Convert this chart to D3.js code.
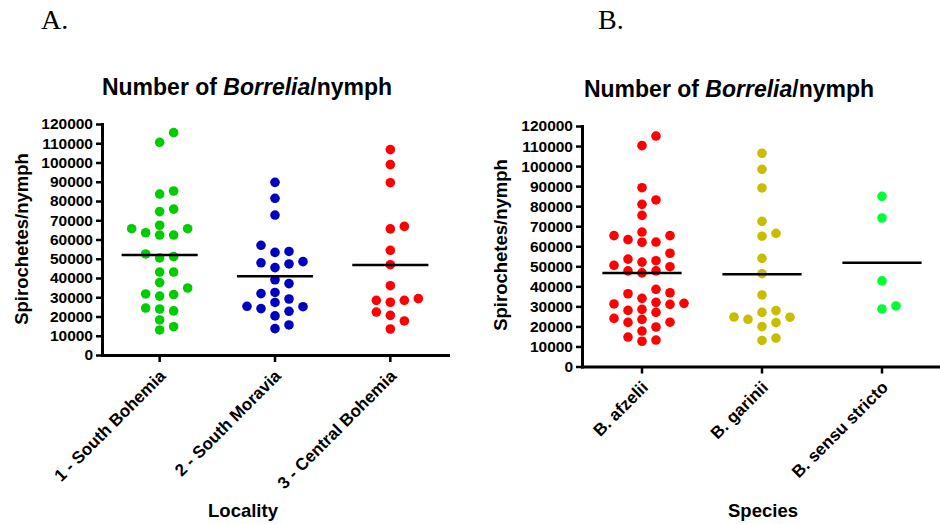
<!DOCTYPE html>
<html>
<head>
<meta charset="utf-8">
<script src="https://cdn.jsdelivr.net/npm/d3@7"></script>
<style>
  html, body { margin: 0; padding: 0; background: #fff; }
  svg { display: block; }
  text { font-family: "Liberation Sans", Arial, sans-serif; }
</style>
</head>
<body>
<script>
// ---------- Data ----------
const categoriesA = ["1 - South Bohemia", "2 - South Moravia", "3 - Central Bohemia"];
const southBohemia = [115500,110500,85200,83600,75800,74500,67400,65600,65600,63500,62300,62300,52500,51100,50400,43100,43100,37600,34800,31700,31400,30600,24400,23900,22900,18200,14700,13000];
const southMoravia = [89700,81400,72700,57000,53800,53300,48500,47900,47300,45400,39100,37100,32500,31900,29100,27300,25300,25100,24100,22700,20300,15600,13700];
const centralBohemia = [106700,98900,89500,66800,65500,54400,46900,36000,29300,28400,28400,27400,22300,20600,17700,13500];
const meansA = [51900, 40900, 46800];

const categoriesB = ["B. afzelii", "B. garinii", "B. sensu stricto"];
const afzelii = [115000,110200,89200,83100,80900,75400,67100,65300,65300,63300,62100,62000,56500,53600,52800,52100,50500,49800,47700,47700,46700,38500,36800,36300,34000,32000,31500,31200,31000,28500,28000,27000,24000,23500,22100,22000,19700,17700,14700,13200,12600];
const garinii = [106400,98400,89100,72400,66400,65000,54000,46300,35700,27900,27000,24700,24600,23500,21900,19900,14200,13000];
const sensuStricto = [84900,74100,42700,30200,28700];
const meansB = [46700, 46000, 51800];

const yTicks = [0,10000,20000,30000,40000,50000,60000,70000,80000,90000,100000,110000,120000];
const title = ["Number of ", "Borrelia", "/nymph"];
const yTitle = "Spirochetes/nymph";

// ---------- Drawing ----------
const svg = d3.select("body").append("svg").attr("width", 940).attr("height", 524);

function swarm(vals, y, thr) {
  const order = vals.map((v, i) => i).sort((a, b) => vals[a] - vals[b]);
  const placed = [];
  const off = new Array(vals.length);
  for (const i of order) {
    const py = y(vals[i]);
    for (let k = 0; k < 30; k++) {
      const c = k === 0 ? 0 : (k % 2 ? (k + 1) / 2 : -k / 2);
      if (!placed.some(p => p.c === c && Math.abs(p.y - py) < thr)) {
        off[i] = c; placed.push({c, y: py}); break;
      }
    }
  }
  return off;
}

function panel(cfg) {
  const g = svg.append("g");
  const x = d3.scaleBand().domain(cfg.cats).range(cfg.xr);
  const y = d3.scaleLinear().domain([0, 120000]).range(cfg.yr);
  const bw = x.bandwidth();

  // panel letter
  g.append("text").attr("x", cfg.letterX).attr("y", 29)
    .style("font-family", "'Liberation Serif', 'Times New Roman', serif")
    .style("font-size", "28px").text(cfg.letter);

  // title
  const t = g.append("text").attr("x", cfg.titleX).attr("y", cfg.titleY)
    .attr("text-anchor", "middle").style("font-size", "23px").style("font-weight", "bold");
  t.append("tspan").text(title[0]);
  t.append("tspan").style("font-style", "italic").text(title[1]);
  t.append("tspan").text(title[2]);

  // y axis
  const ya = g.append("g").attr("transform", `translate(${cfg.xr[0]},0)`)
    .call(d3.axisLeft(y).tickValues(yTicks).tickFormat(d3.format("d")).tickSize(6).tickSizeOuter(0).tickPadding(3));
  ya.select(".domain").attr("stroke", "#000").attr("stroke-width", 3).attr("stroke-linecap", "square");
  ya.selectAll(".tick line").attr("stroke", "#000").attr("stroke-width", 2.5);
  ya.selectAll(".tick text").attr("fill", "#000").style("font-size", "15.5px").style("font-weight", "bold")
    .style("font-family", "'Liberation Sans', Arial, sans-serif");

  // x axis
  const xa = g.append("g").attr("transform", `translate(0,${cfg.yr[0]})`)
    .call(d3.axisBottom(x).tickSize(7).tickSizeOuter(0));
  xa.select(".domain").attr("stroke", "#000").attr("stroke-width", 3).attr("stroke-linecap", "square");
  xa.selectAll(".tick line").attr("stroke", "#000").attr("stroke-width", 2.5);
  xa.selectAll(".tick text").remove();
  g.selectAll(".xlab").data(cfg.cats).join("text")
    .attr("transform", d => `translate(${x(d) + bw / 2 + 7},${cfg.yr[0] + 22}) rotate(-45)`)
    .attr("text-anchor", "end").style("font-size", "17px").style("font-weight", "bold")
    .text(d => d);

  // y title
  g.append("text").attr("transform", `translate(${cfg.yTitleX},${cfg.yTitleY}) rotate(-90)`)
    .attr("text-anchor", "middle").style("font-size", "18.5px").style("font-weight", "bold").text(yTitle);
  // x title
  g.append("text").attr("x", cfg.xTitleX).attr("y", 517).attr("text-anchor", "middle")
    .style("font-size", "18.5px").style("font-weight", "bold").text(cfg.xTitle);

  // points
  const step = 14;
  cfg.series.forEach((vals, i) => {
    const off = swarm(vals, y, 9.8);
    const cx = x(cfg.cats[i]) + bw / 2;
    g.append("g").selectAll("circle").data(vals).join("circle")
      .attr("cx", (d, j) => cx + off[j] * step)
      .attr("cy", d => y(d))
      .attr("r", 4.8)
      .attr("fill", cfg.colors[i]);
  });

  // mean lines
  g.selectAll(".mean").data(cfg.means).join("line")
    .attr("x1", (d, i) => x(cfg.cats[i]) + bw * 0.17)
    .attr("x2", (d, i) => x(cfg.cats[i]) + bw * 0.83)
    .attr("y1", d => y(d)).attr("y2", d => y(d))
    .attr("stroke", "#000").attr("stroke-width", 2.5);
}

panel({
  letter: "A.", letterX: 41, titleX: 247, titleY: 95,
  cats: categoriesA, xr: [102, 448], yr: [355, 124],
  series: [southBohemia, southMoravia, centralBohemia], means: meansA,
  colors: ["#00cc00", "#0000c0", "#ff0000"],
  yTitleX: 28, yTitleY: 239, xTitle: "Locality", xTitleX: 243
});
panel({
  letter: "B.", letterX: 598, titleX: 729, titleY: 97,
  cats: categoriesB, xr: [582, 942], yr: [366.5, 126],
  series: [afzelii, garinii, sensuStricto], means: meansB,
  colors: ["#ff0000", "#c8be00", "#00ff33"],
  yTitleX: 507, yTitleY: 245, xTitle: "Species", xTitleX: 763
});
</script>
</body>
</html>
